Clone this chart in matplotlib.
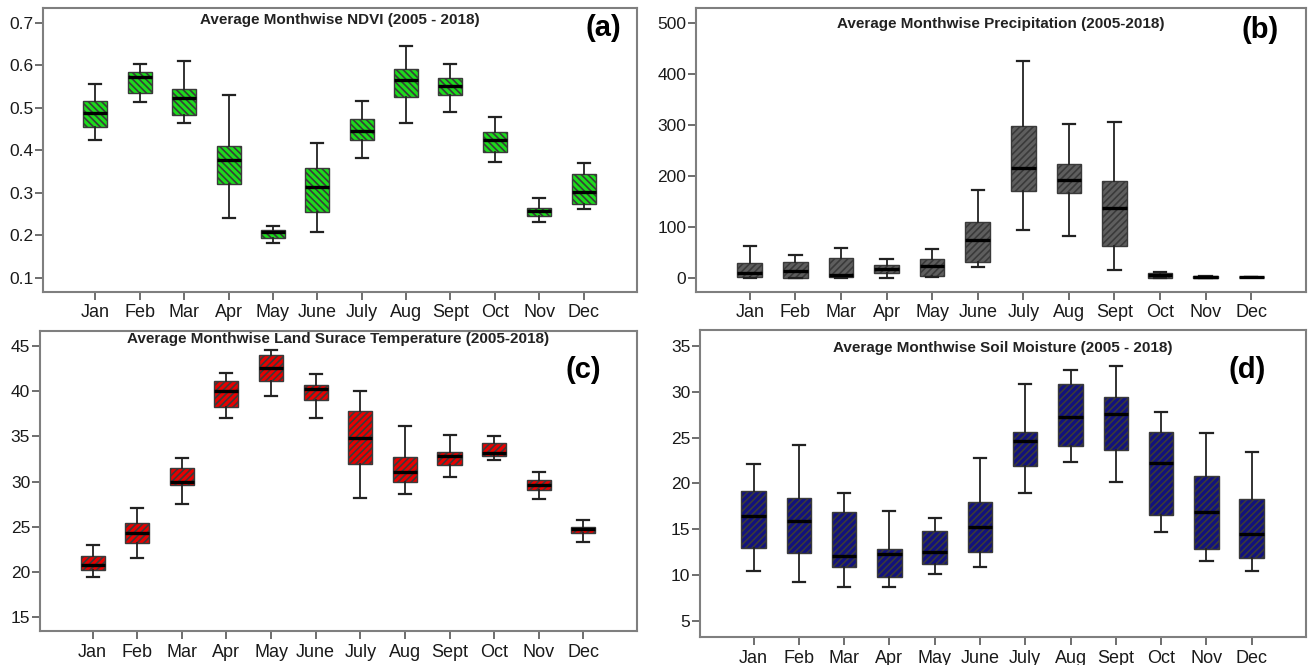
import matplotlib.pyplot as plt

plt.rcParams['font.family'] = ['Liberation Sans', 'DejaVu Sans']
plt.rcParams['hatch.linewidth'] = 1.2

months = ['Jan', 'Feb', 'Mar', 'Apr', 'May', 'June', 'July', 'Aug', 'Sept', 'Oct', 'Nov', 'Dec']

# five-number summaries per month: lower whisker, Q1, median, Q3, upper whisker
ndvi_low = [0.425, 0.514, 0.465, 0.241, 0.182, 0.207, 0.382, 0.463, 0.490, 0.372, 0.230, 0.262]
ndvi_q1 = [0.455, 0.535, 0.484, 0.321, 0.194, 0.255, 0.423, 0.526, 0.529, 0.395, 0.246, 0.274]
ndvi_med = [0.487, 0.572, 0.523, 0.378, 0.207, 0.314, 0.446, 0.566, 0.551, 0.424, 0.256, 0.301]
ndvi_q3 = [0.516, 0.585, 0.544, 0.411, 0.212, 0.357, 0.474, 0.592, 0.570, 0.443, 0.263, 0.344]
ndvi_high = [0.556, 0.603, 0.611, 0.529, 0.221, 0.417, 0.516, 0.645, 0.604, 0.477, 0.287, 0.369]

prec_low = [0, 0, 0, 0, 2, 20, 93, 82, 16, 0, 0, 0.5]
prec_q1 = [0.7, 0, 2, 8.5, 3, 31, 170, 167, 63, 0, 0, 0.5]
prec_med = [8.5, 13, 4.6, 17.6, 23, 74.5, 216, 191, 136, 4.6, 1.3, 0.5]
prec_q3 = [29, 30, 39, 24, 37, 109, 297, 223, 190, 10, 2.6, 0.5]
prec_high = [62, 44, 57.5, 37, 56, 172, 425, 302, 305, 10.5, 4, 0.5]

lst_low = [19.4, 21.5, 27.5, 37.1, 39.5, 37.1, 28.2, 28.6, 30.5, 32.4, 28.05, 23.3]
lst_q1 = [20.16, 23.2, 29.6, 38.3, 41.2, 39.0, 31.95, 29.9, 31.8, 32.8, 29.1, 24.3]
lst_med = [20.7, 24.3, 30.0, 40.1, 42.6, 40.3, 34.8, 31.1, 32.8, 33.2, 29.6, 24.7]
lst_q3 = [21.7, 25.35, 31.5, 41.2, 44.0, 40.7, 37.8, 32.7, 33.3, 34.3, 30.2, 25.0]
lst_high = [23.0, 27.1, 32.6, 42.0, 44.6, 41.9, 40.1, 36.2, 35.2, 35.0, 31.1, 25.7]

sm_low = [10.4, 9.3, 8.75, 8.75, 10.1, 10.9, 19.0, 22.3, 20.2, 14.7, 11.5, 10.5]
sm_q1 = [13.0, 12.4, 10.85, 9.8, 11.2, 12.5, 21.9, 24.1, 23.65, 16.6, 12.8, 11.9]
sm_med = [16.5, 15.95, 12.05, 12.3, 12.5, 15.25, 24.6, 27.3, 27.6, 22.2, 16.85, 14.45]
sm_q3 = [19.2, 18.4, 16.9, 12.9, 14.8, 18.0, 25.6, 30.9, 29.4, 25.6, 20.85, 18.3]
sm_high = [22.1, 24.2, 19.0, 17.0, 16.2, 22.8, 30.85, 32.4, 32.85, 27.8, 25.5, 23.4]


def make_stats(low, q1, med, q3, high):
    stats = []
    for i in range(len(months)):
        stats.append({'whislo': low[i], 'q1': q1[i], 'med': med[i],
                      'q3': q3[i], 'whishi': high[i], 'fliers': []})
    return stats


def draw_panel(ax, stats, color, hatch, title, letter, ylim, yticks, ytick_fmt, title_y, letter_pos):
    pos = list(range(len(months)))
    ax.bxp(stats, positions=pos, widths=0.54, capwidths=0.27, patch_artist=True,
           showfliers=False,
           boxprops=dict(facecolor=color, edgecolor='#3a3a3a', hatch=hatch, linewidth=1.0),
           medianprops=dict(color='black', linewidth=2.4),
           whiskerprops=dict(color='#222222', linewidth=1.3),
           capprops=dict(color='#222222', linewidth=1.6))
    ax.set_xlim(-1.18, len(months) - 1 + 1.2)
    ax.set_ylim(*ylim)
    ax.set_yticks(yticks)
    ax.set_yticklabels([ytick_fmt.format(v) for v in yticks])
    ax.set_xticks(pos)
    ax.set_xticklabels(months)
    ax.tick_params(axis='both', length=6, width=1.2, color='#555555', labelcolor='#1a1a1a')
    ax.tick_params(axis='y', labelsize=12.5, pad=1)
    ax.tick_params(axis='x', labelsize=13, pad=3)
    for sp in ax.spines.values():
        sp.set_color('#7f7f7f')
        sp.set_linewidth(1.5)
    ax.text(0.5, title_y, title, transform=ax.transAxes, ha='center', va='center',
            fontsize=11, fontweight='bold', color='#222222')
    ax.text(letter_pos[0], letter_pos[1], letter, transform=ax.transAxes, ha='center', va='center',
            fontsize=21, fontweight='bold')


fig = plt.figure(figsize=(13.1, 6.65), dpi=100)
ax_a = fig.add_axes([0.0328, 0.561, 0.4534, 0.427])
ax_b = fig.add_axes([0.5313, 0.561, 0.4656, 0.427])
ax_c = fig.add_axes([0.0305, 0.0511, 0.4557, 0.451])
ax_d = fig.add_axes([0.5344, 0.0421, 0.4626, 0.4617])

draw_panel(ax_a, make_stats(ndvi_low, ndvi_q1, ndvi_med, ndvi_q3, ndvi_high),
           '#1cdc1c', '\\\\\\\\\\', 'Average Monthwise NDVI (2005 - 2018)', '(a)',
           (0.066, 0.735), [0.1, 0.2, 0.3, 0.4, 0.5, 0.6, 0.7], '{:.1f}', 0.958, (0.944, 0.93))
draw_panel(ax_b, make_stats(prec_low, prec_q1, prec_med, prec_q3, prec_high),
           '#5e5e5e', '/////', 'Average Monthwise Precipitation (2005-2018)', '(b)',
           (-28, 529), [0, 100, 200, 300, 400, 500], '{:d}', 0.944, (0.925, 0.922))
draw_panel(ax_c, make_stats(lst_low, lst_q1, lst_med, lst_q3, lst_high),
           '#e80000', '/////', 'Average Monthwise Land Surace Temperature (2005-2018)', '(c)',
           (13.4, 46.7), [15, 20, 25, 30, 35, 40, 45], '{:d}', 0.973, (0.91, 0.87))
draw_panel(ax_d, make_stats(sm_low, sm_q1, sm_med, sm_q3, sm_high),
           '#12127e', '/////', 'Average Monthwise Soil Moisture (2005 - 2018)', '(d)',
           (3.25, 36.75), [5, 10, 15, 20, 25, 30, 35], '{:d}', 0.94, (0.903, 0.87))

fig.savefig('out.png', dpi=100)
